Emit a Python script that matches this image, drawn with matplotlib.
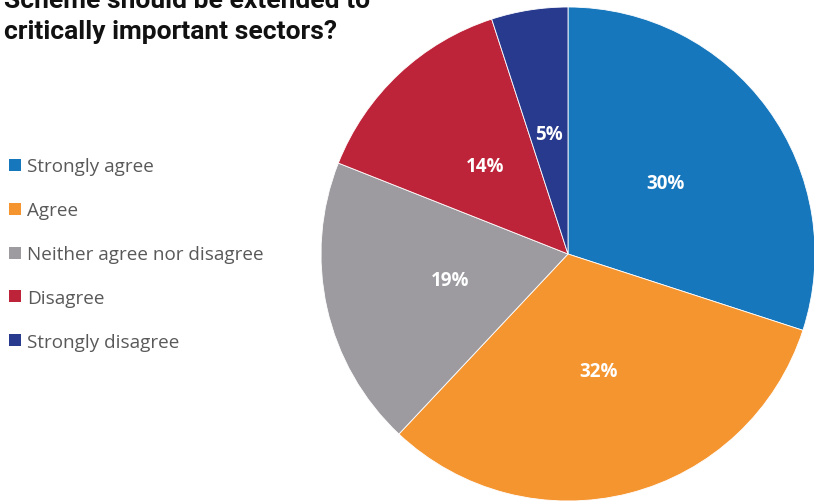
import matplotlib.pyplot as plt
from matplotlib.patches import Patch

# survey responses
labels = ['Strongly agree', 'Agree', 'Neither agree nor disagree',
          'Disagree', 'Strongly disagree']
shares = [30, 32, 19, 14, 5]
colors = ['#1777BC', '#F59530', '#9D9BA0', '#BE2439', '#283A8E']

title_lines = ['Scheme should be extended to', 'critically important sectors?']

W, H = 814, 502
fig = plt.figure(figsize=(W / 100, H / 100), dpi=100)

# pie axes: centre (568, 255), radius 247 px
cx, cy, r = 568, 255, 247
ax = fig.add_axes([(cx - r) / W, (H - cy - r) / H, 2 * r / W, 2 * r / H])
wedges, texts = ax.pie(shares, colors=colors, startangle=90, counterclock=False,
                       labels=[f'{v}%' for v in shares], labeldistance=0.49,
                       wedgeprops=dict(linewidth=0.6, edgecolor='white'),
                       textprops=dict(color='white', fontsize=13.5, fontweight='bold',
                                      family='Open Sans'))
for t in texts:
    t.set_horizontalalignment('center')
    t.set_verticalalignment('center')
ax.set_xlim(-1, 1)
ax.set_ylim(-1, 1)
ax.set_aspect('equal')
ax.axis('off')

# title, top line runs off the canvas
fig.text(4 / W, 1 - 8 / H, title_lines[0], fontsize=19, fontweight='bold',
         family='Roboto', va='baseline', ha='left', color='#111111')
fig.text(4 / W, 1 - 39 / H, title_lines[1], fontsize=19, fontweight='bold',
         family='Roboto', va='baseline', ha='left', color='#111111')

handles = [Patch(facecolor=c, edgecolor='none') for c in colors]
leg = fig.legend(handles, labels, loc='upper left',
                 bbox_to_anchor=(0 / W, 1 - 149 / H), frameon=False,
                 handlelength=0.6, handleheight=0.6, handletextpad=0.35,
                 labelspacing=1.37, borderpad=0,
                 prop=dict(family='Open Sans', size=13.6))
for t in leg.get_texts():
    t.set_color('#595959')

fig.savefig('out.png', dpi=100)
